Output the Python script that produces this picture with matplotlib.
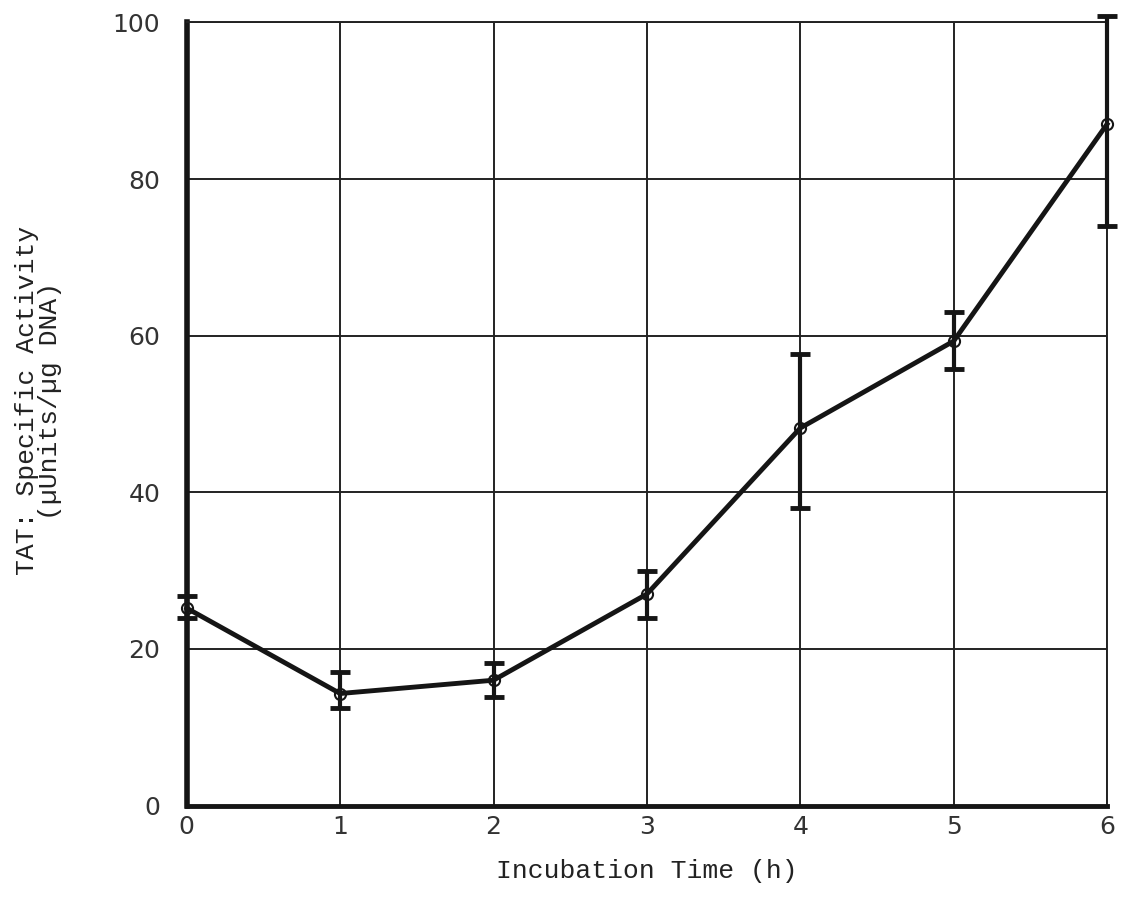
import matplotlib
matplotlib.use("Agg")
import matplotlib.pyplot as plt
import numpy as np

hours = [0, 1, 2, 3, 4, 5, 6]
activity = [25.2, 14.3, 16.0, 27.0, 48.2, 59.3, 87.0]
err_low = [24.0, 12.5, 13.8, 24.0, 38.0, 55.7, 74.0]
err_high = [26.8, 17.0, 18.2, 30.0, 57.6, 63.0, 100.8]
x_ticks = [0, 1, 2, 3, 4, 5, 6]
y_ticks = [0, 20, 40, 60, 80, 100]

fig = plt.figure(figsize=(11.25, 8.97), dpi=100)
ax = fig.add_axes([0.166, 0.102, 0.818, 0.873])

ax.set_xlim(0, 6)
ax.set_ylim(0, 100)
ax.set_xticks(x_ticks)
ax.set_yticks(y_ticks)
ax.grid(True, color="#222222", linewidth=1.4)
ax.set_axisbelow(True)

y = np.array(activity)
lo = y - np.array(err_low)
hi = np.array(err_high) - y
ax.errorbar(hours, y, yerr=[lo, hi], fmt="none", ecolor="#151515",
            elinewidth=3, capsize=7, capthick=3.5, zorder=3, clip_on=False)
ax.plot(hours, y, color="#151515", linewidth=3.5, marker="o", markersize=8,
        markerfacecolor="none", markeredgecolor="#151515", markeredgewidth=1.5,
        zorder=4, clip_on=False)

for s in ["top", "right"]:
    ax.spines[s].set_linewidth(1.4)
    ax.spines[s].set_color("#222222")
ax.spines["left"].set_linewidth(4)
ax.spines["bottom"].set_linewidth(3.5)
ax.spines["left"].set_color("#151515")
ax.spines["bottom"].set_color("#151515")

ax.tick_params(axis="both", length=0, labelsize=18, colors="#333333")
ax.tick_params(axis="y", pad=19)
ax.tick_params(axis="x", pad=7)
for lab in ax.get_xticklabels() + ax.get_yticklabels():
    lab.set_fontfamily("DejaVu Sans")

ax.set_xlabel("Incubation Time (h)", fontsize=19, family="Liberation Mono",
              labelpad=14, color="#222222")
ax.set_ylabel("TAT: Specific Activity\n(µUnits/µg DNA)", fontsize=19,
              family="Liberation Mono", color="#222222", linespacing=0.95)
ax.yaxis.set_label_coords(-0.136, 0.517)

fig.savefig("out.png", dpi=100, facecolor="white")
